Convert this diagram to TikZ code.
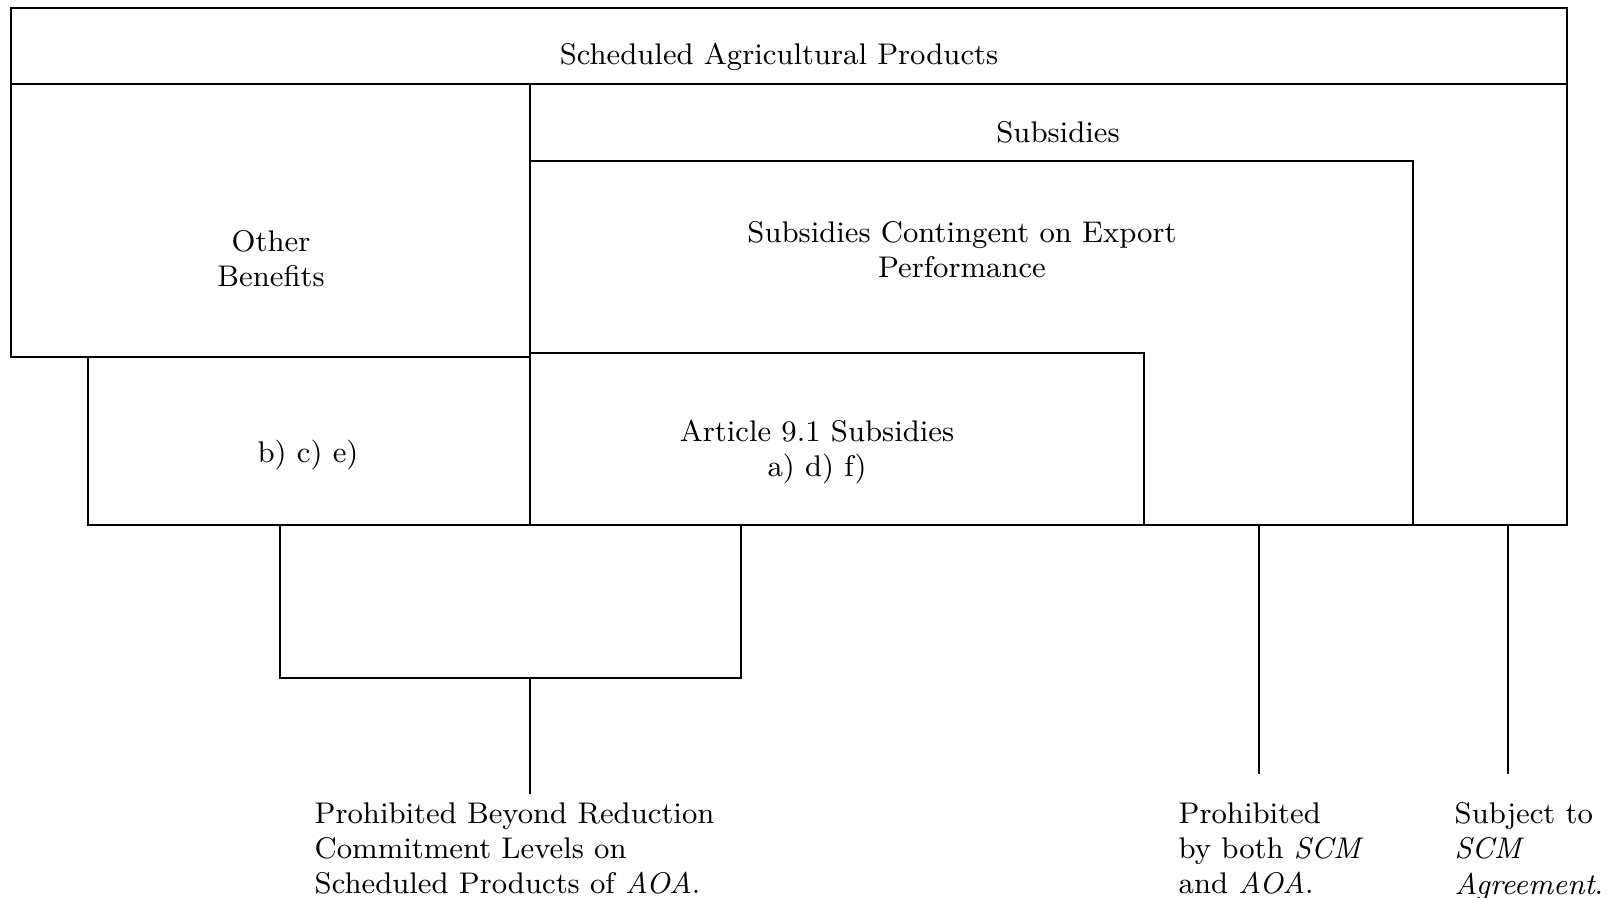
\documentclass[tikz,border=0pt]{standalone}
\usetikzlibrary{positioning,fit}
\begin{document}
\begin{tikzpicture}[x=0.1mm,y=-0.1mm,
				every node/.style={font=\fontsize{8.5}{10}\selectfont},
				region/.style={draw,line width=0.6pt,inner sep=0pt},
				lbl/.style={align=center},
				note/.style={align=left,anchor=north west,inner sep=0pt}]
\useasboundingbox (0,0) rectangle (1610,898);
% the boxes
\node[region,fit={(11,8) (1567,84)}] (band) {};
\node[region,fit={(11,84) (530,357)}] (other) {};
\node[region,fit={(530,84) (1567,525)}] (subs) {};
\node[region,fit={(530,161) (1413,525)}] (export) {};
\node[region,fit={(530,353) (1144,525)}] (art) {};
\node[region,fit={(88,357) (530,525)}] (bce) {};
\node[region,fit={(280,525) (741,678)}] (lower) {};
% texts in the boxes
\node[lbl] (bandtxt) at (779,57) {Scheduled Agricultural Products};
\node[lbl] (othertxt) at (271,259) {Other\\Benefits};
\node[lbl] (substxt) at (1058,132) {Subsidies};
\node[lbl] (exporttxt) at (962,250) {Subsidies Contingent on Export\\Performance};
\node[lbl] (arttxt) at (817,452) {Article 9.1 Subsidies\\a) d) f)};
\node[lbl] (bcetxt) at (308,455) {b) c) e)};
% notes below
\node[note] (noteA) at (314,802) {Prohibited Beyond Reduction\\Commitment Levels on\\Scheduled Products of \textit{AOA}.};
\node[note] (noteB) at (1178,802) {Prohibited\\by both \textit{SCM}\\and \textit{AOA}.};
\node[note] (noteC) at (1454,802) {Subject to\\\textit{SCM}\\\textit{Agreement}.};
\coordinate (endA) at (530,794);
\coordinate (endB) at (1259,774);
\coordinate (endC) at (1508,774);
\draw[line width=0.6pt] (lower.south -| endA) -- (endA);
\draw[line width=0.6pt] (export.south -| endB) -- (endB);
\draw[line width=0.6pt] (subs.south -| endC) -- (endC);
\end{tikzpicture}
\end{document}
